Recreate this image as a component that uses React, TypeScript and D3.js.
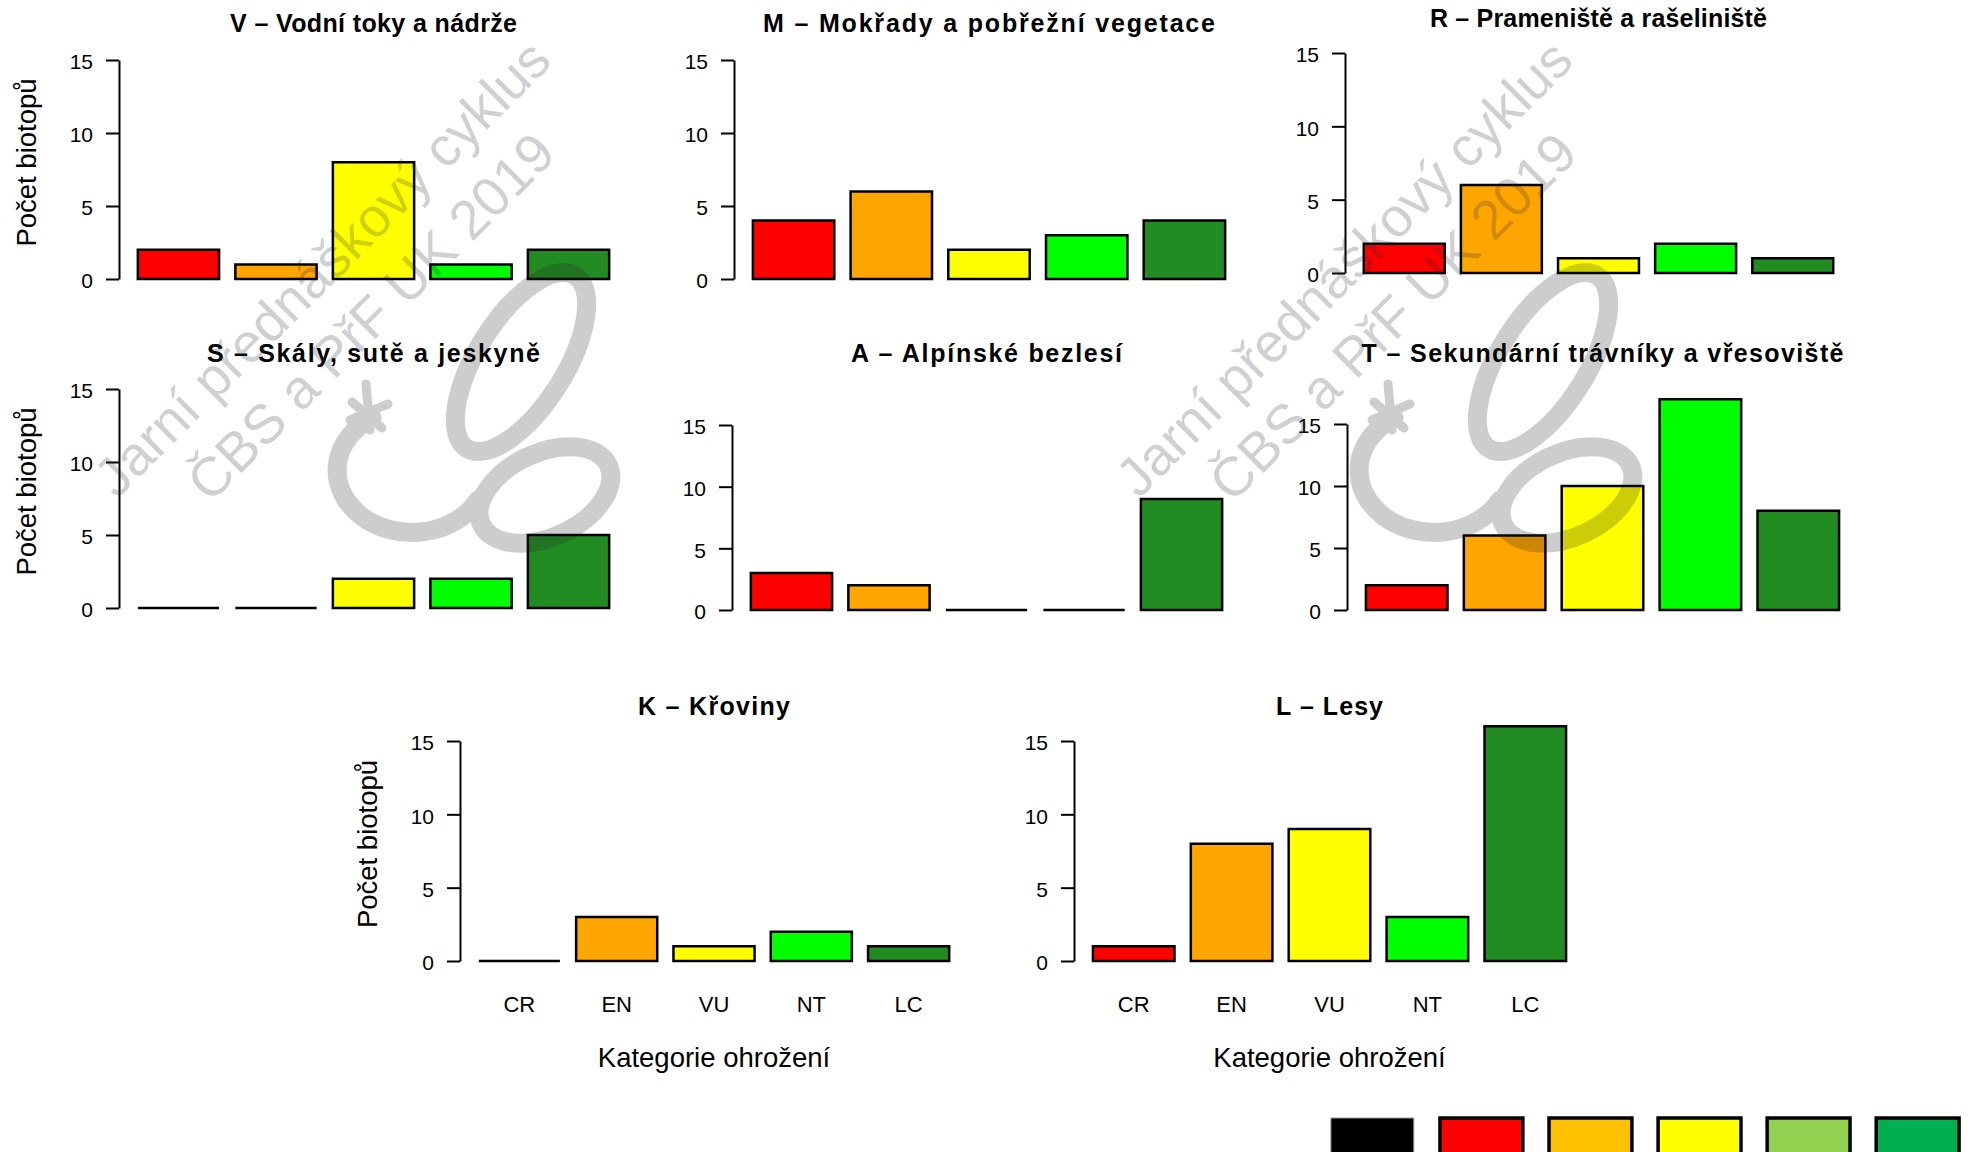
import * as d3 from 'd3';
import { useEffect, useRef } from 'react';

// threat categories and their bar colours
const categories = ['CR', 'EN', 'VU', 'NT', 'LC'];
const barColors = ['#FF0000', '#FFA500', '#FFFF00', '#00FF00', '#228B22'];

const titles = [
    'V – Vodní toky a nádrže',
    'M – Mokřady a pobřežní vegetace',
    'R – Prameniště a rašeliniště',
    'S – Skály, sutě a jeskyně',
    'A – Alpínské bezlesí',
    'T – Sekundární trávníky a vřesoviště',
    'K – Křoviny',
    'L – Lesy',
];

// number of habitats per category (CR, EN, VU, NT, LC)
const valuesV = [2, 1, 8, 1, 2];
const valuesM = [4, 6, 2, 3, 4];
const valuesR = [2, 6, 1, 2, 1];
const valuesS = [0, 0, 2, 2, 5];
const valuesA = [3, 2, 0, 0, 9];
const valuesT = [2, 6, 10, 17, 8];
const valuesK = [0, 3, 1, 2, 1];
const valuesL = [1, 8, 9, 3, 16];
const panelValues = [valuesV, valuesM, valuesR, valuesS, valuesA, valuesT, valuesK, valuesL];

const yTicks = [0, 5, 10, 15];
const yLabel = 'Počet biotopů';
const xLabel = 'Kategorie ohrožení';

// the strip of swatches at the bottom right
const legendColors = ['#000000', '#FF0000', '#FFC000', '#FFFF00', '#92D050', '#00B050'];

const watermarkLines = ['Jarní přednáškový cyklus', 'ČBS a PřF UK 2019'];

// plot frames, in pixels of the 1973 x 1152 picture (titleW = drawn width of the title)
const frames = [
    { left: 119, right: 628, y0: 279, y15: 60, titleY: 32, titleW: 287, yLab: true, xLab: false },
    { left: 734, right: 1244, y0: 279, y15: 60, titleY: 32, titleW: 452, yLab: false, xLab: false },
    { left: 1345, right: 1852, y0: 273, y15: 53, titleY: 27, titleW: 337, yLab: false, xLab: false },
    { left: 119, right: 628, y0: 608, y15: 389, titleY: 362, titleW: 333, yLab: true, xLab: false },
    { left: 732, right: 1241, y0: 610, y15: 425, titleY: 362, titleW: 271, yLab: false, xLab: false },
    { left: 1347, right: 1858, y0: 610, y15: 424, titleY: 362, titleW: 482, yLab: false, xLab: false },
    { left: 460, right: 968, y0: 961, y15: 741, titleY: 715, titleW: 152, yLab: true, xLab: true },
    { left: 1074, right: 1585, y0: 961, y15: 741, titleY: 715, titleW: 107, yLab: false, xLab: true },
];

const font = '"Liberation Sans", Arial, sans-serif';

function Panel({ values, title, frame }) {
    const yAxis = useRef();

    const xScale = d3.scaleBand()
        .domain(categories)
        .range([frame.left, frame.right])
        .paddingInner(1 / 6)
        .paddingOuter(0.1933);
    const yScale = d3.scaleLinear().domain([0, 15]).range([frame.y0, frame.y15]);

    useEffect(() => {
        // R style axis: line only over the tick range, horizontal labels
        const axis = d3.axisLeft(yScale).tickValues(yTicks).tickSize(13).tickSizeOuter(0).tickPadding(13);
        const g = d3.select(yAxis.current).call(axis);
        g.attr('font-family', font).attr('font-size', 21);
        g.select('.domain').attr('stroke', '#000').attr('stroke-width', 2);
        g.selectAll('.tick line').attr('stroke', '#000').attr('stroke-width', 2);
        g.selectAll('.tick text').attr('fill', '#000').attr('dy', '0.42em');
    }, [frame]);

    const midX = (frame.left + frame.right) / 2;
    const midY = (yScale(-0.6) + yScale(15.6)) / 2 - 7;

    // bars as closed paths so that a zero count still shows as a black line
    const barPath = (c, v) => {
        const x = xScale(c);
        const w = xScale.bandwidth();
        const p = d3.path();
        p.rect(x, yScale(v), w, yScale(0) - yScale(v));
        return p.toString();
    };

    return <g>
        <text x={midX} y={frame.titleY} textAnchor='middle' fontFamily={font}
            fontWeight='bold' fontSize={25} textLength={frame.titleW}
            lengthAdjust='spacing'>{title}</text>
        {values.map((v, i) => (
            <path key={categories[i]}
                d={barPath(categories[i], v)}
                fill={barColors[i]}
                stroke='#000'
                strokeWidth={2.5} />
        ))}
        <g ref={yAxis} transform={`translate(${frame.left},0)`} />
        {frame.yLab &&
            <text transform={`translate(${frame.left - 83},${midY}) rotate(-90)`}
                textAnchor='middle' fontFamily={font} fontSize={27.5}>{yLabel}</text>}
        {frame.xLab && categories.map(c => (
            <text key={c} x={xScale(c) + xScale.bandwidth() / 2} y={frame.y0 + 51}
                textAnchor='middle' fontFamily={font} fontSize={22}>{c}</text>
        ))}
        {frame.xLab &&
            <text x={midX} y={frame.y0 + 106} textAnchor='middle' fontFamily={font} fontSize={27.5}>{xLabel}</text>}
    </g>;
}

// faint ČBS watermark: two text lines and a rough logo
function Watermark({ dx }) {
    return <g transform={`translate(${dx},0)`} opacity={0.22} pointerEvents='none'>
        <g transform='translate(322,268) rotate(-45)'>
            {watermarkLines.map((t, i) => (
                <text key={t} x={0} y={i * 69} textAnchor='middle' dominantBaseline='central'
                    fontFamily={font} fontSize={55} fill='#2a3040'>{t}</text>
            ))}
        </g>
        <g fill='none' stroke='#222' strokeWidth={19} strokeLinecap='round'>
            {/* the C with its little star */}
            <path d='M 372,418 A 75 62 0 1 0 478,500' />
            <path d='M 352,402 L 382,428 M 366,384 L 370,430 M 350,420 L 388,404' strokeWidth={9} />
            {/* the B as two linked loops */}
            <ellipse cx={521} cy={362} rx={102} ry={44} transform='rotate(-58 521 362)' />
            <ellipse cx={545} cy={495} rx={70} ry={42} transform='rotate(-25 545 495)' />
        </g>
    </g>;
}

function App() {
    const swatch = d3.scaleBand().domain(legendColors).range([1320, 1970]).paddingInner(0.24).paddingOuter(0.1);

    return <svg width={1973} height={1152} viewBox='0 0 1973 1152'
        style={{ position: 'absolute', left: 0, top: 0, background: '#fff' }}>
        <rect width={1973} height={1152} fill='#fff' />
        {frames.map((f, i) => (
            <Panel key={titles[i]} values={panelValues[i]} title={titles[i]} frame={f} />
        ))}
        {legendColors.map((c, i) => (
            <rect key={c} x={swatch(c)} y={1118} width={swatch.bandwidth()} height={45}
                fill={c} stroke={i === 0 ? '#999' : '#000'} strokeWidth={i === 0 ? 1 : 3.5} />
        ))}
        <Watermark dx={0} />
        <Watermark dx={1022} />
    </svg>;
}

export default App;
